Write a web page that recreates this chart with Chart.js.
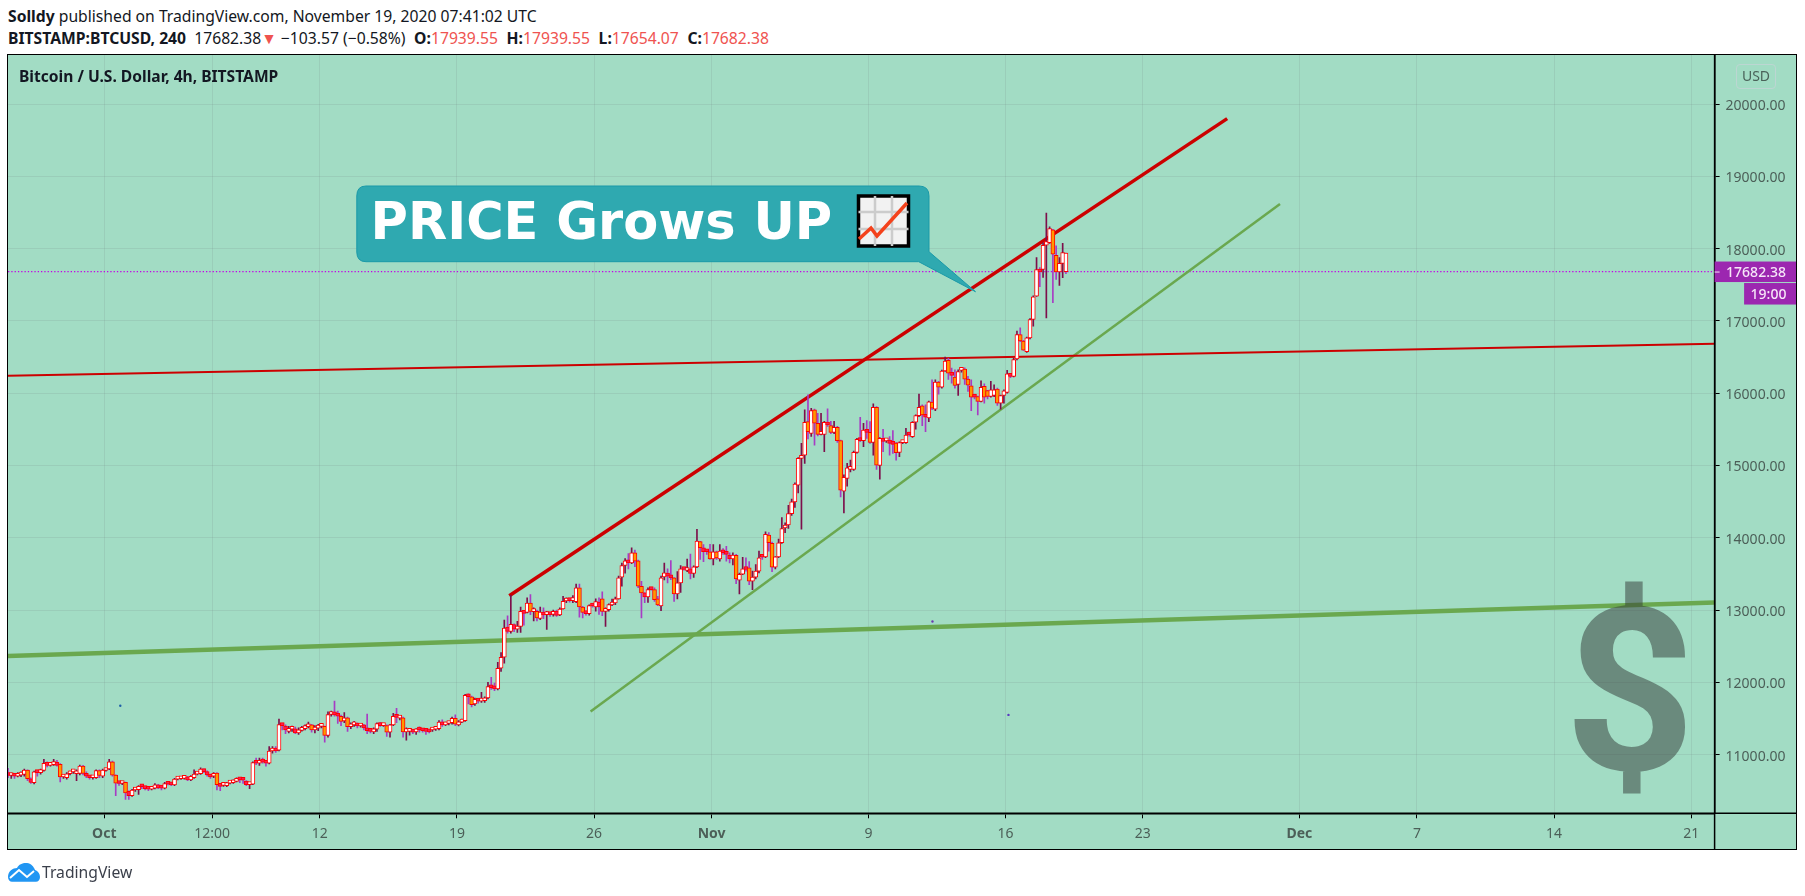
<!DOCTYPE html>
<html>
<head>
<meta charset="utf-8">
<title>BTCUSD</title>
<script src="https://cdn.jsdelivr.net/npm/chart.js@4"></script>
<style>
  html, body { margin: 0; padding: 0; background: #fff; width: 1805px; height: 896px; overflow: hidden; font-family: "Noto Sans", sans-serif; color: #131722; }
  .abs { position: absolute; white-space: nowrap; }
  #frame { position: absolute; left: 7px; top: 54px; width: 1788px; height: 794px; border: 1.5px solid #000; background: #a2dcc4; }
  #mainChart { position: absolute; left: 8px; top: 55px; }
  #head1 { left: 8px; top: 6px; font-size: 15.7px; line-height: 20px; }
  #head2 { left: 8px; top: 28px; font-size: 15.7px; line-height: 20px; }
  #head2 i { font-style: normal; color: #ef5350; }
  #head2 .gap { margin-left: 4.5px; }
  #chartName { left: 19px; top: 66px; font-size: 15.6px; line-height: 20px; font-weight: 700; color: #131722; }
  #usd { left: 1736px; top: 64px; width: 38px; height: 23px; line-height: 22px; text-align: center; border: 1px solid #bcd6d2; border-radius: 4px; font-size: 14px; color: #4a6259; }
  #brand { left: 42px; top: 860px; font-size: 15.7px; line-height: 24px; color: #3a3f4a; }
  #overlay { position: absolute; left: 0; top: 0; }
</style>
</head>
<body>
<div id="frame"></div>
<canvas id="mainChart" width="1788" height="794"></canvas>
<div class="abs" id="head1"><b>Solldy</b> published on TradingView.com, November 19, 2020 07:41:02 UTC</div>
<div class="abs" id="head2"><b>BITSTAMP:BTCUSD, 240</b>&nbsp; 17682.38<i>▼</i> −103.57 (−0.58%) <b class="gap">O:</b><i>17939.55</i> <b class="gap">H:</b><i>17939.55</i> <b class="gap">L:</b><i>17654.07</i> <b class="gap">C:</b><i>17682.38</i></div>
<div class="abs" id="chartName">Bitcoin / U.S. Dollar, 4h, BITSTAMP</div>
<div class="abs" id="usd">USD</div>
<svg id="overlay" width="1805" height="896">
  <text x="1630" y="770" text-anchor="middle" font-family="Roboto" font-weight="700" font-size="229" fill="rgba(50,56,54,0.5)">$</text>
  <path d="M366,186 H919 Q929,186 929,196 V251.7 L975.5,291.7 L918.7,261.7 H366 Q356.8,261.7 356.8,252 V196 Q356.8,186 366,186 Z" fill="#2fa9b0" stroke="#1a99a8" stroke-width="1"/>
  <text x="370.5" y="239" font-family="DejaVu Sans" font-weight="700" font-size="51" fill="#fff">PRICE Grows UP</text>
  <g>
    <rect x="858.5" y="196" width="50" height="50" fill="#f2f2f2" stroke="#000" stroke-width="3.5"/>
    <path d="M875,196 V246 M892,196 V246 M858.5,212 H908.5 M858.5,229 H908.5" stroke="#cccccc" stroke-width="2.5" fill="none"/>
    <path d="M859,239 L871,228 L877,236 L907,203" stroke="#f4421c" stroke-width="3.5" fill="none"/>
  </g>
  <g>
    <path d="M8,877 C8,871 13,868 17,868 C19,864 23,862.7 27,863 C31,863.3 34,867 35,870 C38,871 40,874 40,877 C40,880 38,881.7 36,881.7 H12 C10,881.7 8,880 8,877 Z" fill="#2196f3"/>
    <path d="M10,878 L19,870 L27,877 L34,871" stroke="#fff" stroke-width="2" fill="none"/>
  </g>
</svg>
<div class="abs" id="brand">TradingView</div>
<script>
// x axis is in hours since Oct 1 00:00
const firstBarHour = -118;
const barHours = 4;
const leftHour = -117.96;
const rightHour = 1972.6;

const opens = [
  10715,10710,10715,10700,10715,10725,10785,10665,10610,10760,10750,10780,10880,10850,10860,10880,10865,10690,10680,10735,
  10760,10735,10740,10840,10740,10690,10680,10680,10780,10700,10780,10800,10900,10715,10605,10600,10615,10490,10430,10510,
  10515,10560,10555,10530,10520,10535,10580,10540,10535,10605,10590,10580,10660,10665,10670,10690,10650,10680,10730,10735,
  10790,10765,10720,10700,10745,10585,10575,10570,10605,10610,10630,10665,10660,10635,10585,10590,10890,10880,10900,10885,
  10880,11050,11090,11060,11415,11395,11320,11350,11355,11300,11335,11360,11385,11410,11340,11365,11390,11390,11265,11555,
  11570,11545,11530,11465,11510,11385,11410,11425,11395,11410,11370,11330,11315,11350,11430,11400,11400,11310,11410,11520,
  11505,11510,11315,11320,11315,11315,11345,11335,11325,11320,11340,11350,11360,11450,11410,11430,11440,11500,11410,11450,
  11470,11820,11800,11700,11750,11740,11745,11785,11930,11915,11910,12194,12347,12764,12704,12800,12736,12773,12981,12965,
  13097,12977,12981,12884,12968,12935,12940,12940,12985,12931,13014,13125,13134,13130,13116,13306,13042,12968,12949,13060,
  13042,13111,13153,12981,13005,13069,13097,13153,13454,13616,13681,13653,13792,13681,13329,13236,13181,13292,13282,13153,
  13056,13458,13500,13458,13444,13222,13375,13569,13546,13569,13505,13597,13945,13861,13815,13806,13708,13806,13708,13829,
  13806,13759,13708,13755,13412,13495,13569,13583,13398,13454,13537,13736,13736,14037,13921,13593,13736,13931,14134,14176,
  14333,14495,14727,15097,15143,15606,15444,15769,15583,15430,15430,15597,15551,15458,15528,15343,14644,14819,14945,14945,
  15180,15370,15343,15490,15458,15319,15805,15000,15375,15340,15352,15306,15310,15180,15315,15315,15440,15398,15597,15690,
  15824,15690,15657,15875,15778,16153,16083,16306,16454,16264,16222,16120,16315,16333,16194,16102,15967,15954,15884,16093,
  16037,15954,15968,16056,15861,15968,16009,16245,16231,16472,16810,16722,16575,16764,17019,17343,17717,17713,18046,18083,
  18259,17907,17676,17796,17939
];
const closes = [
  10710,10715,10700,10715,10725,10785,10665,10615,10760,10750,10780,10880,10850,10860,10880,10850,10690,10690,10735,10760,
  10770,10740,10840,10740,10700,10680,10685,10780,10710,10785,10800,10900,10715,10605,10600,10620,10470,10430,10510,10510,
  10560,10555,10530,10520,10535,10580,10540,10535,10600,10590,10580,10660,10665,10670,10690,10650,10700,10730,10735,10800,
  10765,10720,10690,10740,10585,10560,10590,10605,10610,10630,10660,10650,10645,10585,10590,10890,10880,10910,10895,10880,
  11050,11080,11050,11415,11400,11340,11350,11360,11300,11340,11370,11385,11410,11340,11365,11390,11395,11265,11555,11570,
  11550,11530,11460,11510,11385,11410,11430,11395,11410,11370,11330,11320,11350,11430,11400,11400,11310,11410,11530,11515,
  11505,11315,11360,11320,11310,11345,11340,11330,11320,11315,11345,11360,11450,11410,11430,11435,11500,11420,11450,11470,
  11820,11800,11690,11765,11740,11760,11785,11940,11925,11910,12194,12347,12750,12704,12801,12736,12773,12981,12954,13097,
  12981,12977,12889,12972,12931,12935,12935,12981,12926,13014,13120,13134,13130,13144,13306,13042,12968,12949,13060,13055,
  13116,13042,12981,13014,13074,13097,13153,13444,13616,13681,13653,13792,13676,13329,13236,13181,13282,13282,13144,13069,
  13444,13514,13468,13444,13222,13375,13569,13560,13569,13505,13597,13954,13861,13806,13806,13708,13806,13722,13815,13792,
  13769,13708,13759,13431,13495,13569,13560,13398,13454,13537,13722,13730,14046,13931,13593,13736,13931,14125,14162,14333,
  14495,14741,15097,15134,15597,15468,15759,15583,15430,15444,15597,15560,15458,15528,15343,14658,14834,14967,14967,15180,
  15361,15343,15490,15458,15319,15805,15005,15375,15333,15345,15306,15292,15176,15315,15320,15421,15421,15597,15690,15805,
  15700,15667,15880,15792,16153,16083,16306,16445,16278,16245,16106,16297,16329,16194,16111,15944,15944,15884,16079,15944,
  15954,16046,16046,15861,15968,16032,16269,16231,16463,16810,16722,16593,16764,17019,17334,17708,17676,18046,18097,18278,
  17921,17676,17796,17945,17682
];
const highs = [
  10810,10745,10735,10750,10760,10800,10790,10680,10770,10765,10800,10935,10900,10890,10935,10920,10875,10700,10750,10770,
  10785,10790,10855,10850,10760,10710,10700,10790,10790,10800,10810,10935,10910,10720,10620,10630,10620,10500,10520,10530,
  10570,10570,10565,10540,10555,10600,10590,10550,10615,10620,10600,10670,10680,10685,10700,10700,10710,10790,10760,10815,
  10800,10775,10730,10750,10750,10600,10600,10615,10625,10650,10680,10675,10670,10640,10600,10900,10950,10950,10950,10900,
  11110,11110,11110,11490,11430,11410,11390,11395,11380,11370,11390,11410,11450,11420,11400,11420,11410,11395,11590,11600,
  11740,11600,11545,11580,11520,11440,11460,11440,11430,11420,11560,11350,11370,11440,11445,11420,11410,11420,11570,11640,
  11540,11520,11370,11360,11340,11360,11385,11355,11345,11340,11365,11385,11470,11480,11450,11460,11520,11550,11470,11490,
  11835,11840,11810,11780,11770,11860,11800,12000,12070,11990,12275,12410,12860,12920,13204,12810,12843,13042,12985,13170,
  13215,13030,13000,13040,13030,12980,12960,13000,13000,13030,13190,13170,13160,13200,13360,13360,13050,12980,13070,13070,
  13153,13170,13250,13030,13085,13150,13180,13470,13650,13710,13780,13860,13830,13690,13395,13240,13306,13310,13306,13190,
  13470,13650,13569,13685,13450,13530,13615,13590,13705,13775,13610,14115,13950,13905,13815,13910,13905,13815,13905,13850,
  13880,13792,13792,13769,13510,13730,13722,13670,13537,13630,13815,13760,14080,14070,13940,13740,13980,14280,14205,14449,
  14533,14760,15110,15305,15770,15977,15790,15780,15722,15722,15610,15782,15610,15610,15540,15352,14870,15028,15074,15200,
  15375,15667,15583,15620,15606,15852,15815,15385,15500,15360,15398,15481,15320,15325,15335,15514,15460,15605,15700,15986,
  15840,15838,15890,16185,16185,16165,16320,16500,16480,16347,16324,16324,16350,16350,16231,16185,15985,15960,16171,16130,
  16040,16162,16116,16070,15975,16045,16315,16260,16480,16857,16903,16730,16775,17030,17345,17875,17736,18080,18491,18300,
  18265,18037,17875,18074,17939
];
const lows = [
  10680,10670,10670,10690,10695,10700,10640,10600,10595,10700,10730,10770,10830,10840,10850,10840,10620,10670,10660,10720,
  10740,10640,10720,10720,10680,10660,10660,10670,10680,10680,10770,10790,10700,10430,10575,10585,10380,10380,10420,10490,
  10450,10530,10510,10500,10510,10525,10530,10510,10525,10580,10570,10570,10650,10655,10660,10640,10640,10670,10720,10725,
  10750,10700,10670,10680,10510,10500,10560,10555,10595,10600,10620,10610,10600,10570,10530,10585,10860,10850,10880,10840,
  10870,11020,11030,11050,11340,11290,11300,11320,11290,11280,11325,11340,11370,11310,11300,11330,11370,11170,11240,11530,
  11530,11430,11400,11440,11320,11360,11390,11370,11380,11340,11290,11300,11290,11320,11390,11390,11250,11240,11400,11440,
  11480,11240,11200,11270,11290,11280,11310,11310,11280,11300,11320,11335,11340,11390,11400,11410,11420,11400,11395,11440,
  11460,11700,11660,11680,11710,11720,11720,11770,11900,11885,11895,12150,12265,12680,12680,12700,12690,12690,12790,12958,
  12935,12850,12850,12865,12880,12730,12910,12915,12910,12920,13010,13100,13110,13100,13100,12900,12890,12930,12930,13040,
  12985,12940,12921,12773,12985,13060,13075,13150,13329,13510,13570,13640,13600,13310,12889,13100,13106,13275,13120,13060,
  12990,13416,13375,13420,13120,13153,13245,13550,13532,13431,13450,13585,13700,13670,13769,13699,13625,13699,13676,13769,
  13676,13653,13625,13366,13222,13490,13537,13352,13282,13431,13514,13700,13725,13815,13532,13569,13725,13920,14070,14130,
  14310,14420,14620,14120,15028,15366,15400,15282,15410,15421,15190,15540,15440,15440,15320,14565,14342,14713,14912,14930,
  15170,15330,15259,15375,15305,15143,14944,14810,15190,15320,15143,15167,15074,15120,15300,15305,15405,15389,15500,15676,
  15550,15468,15606,15770,15759,15985,16070,16301,16190,16139,16069,15968,16290,16120,16023,15759,15920,15699,15880,15861,
  15920,15944,15950,15830,15778,15861,16000,16215,16225,16460,16713,16590,16565,16750,16926,17338,17472,17600,17042,18070,
  17250,17574,17491,17597,17654
];

const resistanceHours = [496.1, 1375.5];
const resistancePrices = [13198, 19798];
const topLineHours = [-118, 1972.6];
const topLinePrices = [16240, 16683];
const floorHours = [-118, 1972.6];
const floorPrices = [12364, 13105];
const supportHours = [595.7, 1440.2];
const supportPrices = [11597, 18618];

const markerHours = [19.6, 1014.5, 1107.6];
const markerPrices = [11676, 12840, 11549];

const lastPrice = 17682.38;
const lastPriceText = '17682.38';
const countdownText = '19:00';

const priceTicks = [11000, 12000, 13000, 14000, 15000, 16000, 17000, 18000, 19000, 20000];
const timeTicks = [0, 132, 264, 432, 600, 744, 936, 1104, 1272, 1464, 1608, 1776, 1944];
const timeLabels = ['Oct', '12:00', '12', '19', '26', 'Nov', '9', '16', '23', 'Dec', '7', '14', '21'];
const boldLabels = ['Oct', 'Nov', 'Dec'];

function zip(xs, ys) { return xs.map((x, i) => ({ x, y: ys[i] })); }

const wickData = highs.map((h, i) => ({ x: firstBarHour + i * barHours, y: [lows[i], h], up: closes[i] >= opens[i] }));
const bodyData = opens.map((o, i) => ({ x: firstBarHour + i * barHours, y: [o, closes[i]], up: closes[i] >= o }));

function bodyFill(c) {
  if (!c.raw) return '#ffffff';
  // the live bar is drawn hollow in the picture
  if (c.raw.up || c.dataIndex === opens.length - 1) return '#ffffff';
  // short down candles show almost no orange, just the crimson edge
  return Math.abs(c.raw.y[0] - c.raw.y[1]) < 70 ? '#ff1a50' : '#ff9800';
}

// axis lines run on through the scale strips, last price flags sit on the axis
const axisExtras = {
  id: 'axisExtras',
  afterDraw(chart) {
    const { ctx, chartArea, scales } = chart;
    ctx.save();
    ctx.strokeStyle = '#000';
    ctx.lineWidth = 1.5;
    ctx.beginPath();
    ctx.moveTo(chartArea.right, chartArea.top);
    ctx.lineTo(chartArea.right, chart.height);
    ctx.moveTo(chartArea.left, chartArea.bottom);
    ctx.lineTo(chart.width, chartArea.bottom);
    ctx.stroke();

    const y = scales.y.getPixelForValue(lastPrice);
    ctx.fillStyle = '#9c27b0';
    ctx.fillRect(chartArea.right, y - 10, chart.width - chartArea.right, 20.5);
    ctx.fillRect(chartArea.right + 29.5, y + 11.5, chart.width - chartArea.right - 29.5, 21.5);
    ctx.fillStyle = '#f6e6f8';
    ctx.fillRect(chartArea.right, y, 5, 1);
    ctx.font = '500 14px "Noto Sans"';
    ctx.textBaseline = 'middle';
    ctx.fillText(lastPriceText, chartArea.right + 11.5, y + 1.5);
    ctx.fillText(countdownText, chartArea.right + 36, y + 23);
    ctx.restore();
  }
};

function timeFont(c) {
  const label = c.tick ? timeLabels[timeTicks.indexOf(c.tick.value)] : '';
  return { family: 'Noto Sans', size: 14, weight: boldLabels.includes(label) ? '700' : '400' };
}

new Chart(document.getElementById('mainChart'), {
  type: 'bar',
  data: {
    datasets: [
      {
        type: 'line', data: zip(resistanceHours, resistancePrices), borderColor: '#cc0000', borderWidth: 3.5,
        pointRadius: 0, order: 5
      },
      {
        type: 'line', data: zip(topLineHours, topLinePrices), borderColor: '#cc0000', borderWidth: 2,
        pointRadius: 0, order: 5
      },
      {
        type: 'line', data: zip(floorHours, floorPrices), borderColor: '#6aa84f', borderWidth: 4.5,
        pointRadius: 0, order: 5
      },
      {
        type: 'line', data: zip(supportHours, supportPrices), borderColor: '#6aa84f', borderWidth: 2.5,
        pointRadius: 0, order: 5
      },
      {
        type: 'line', data: zip([leftHour, rightHour], [lastPrice, lastPrice]), borderColor: '#c400e8', borderWidth: 1.3,
        borderDash: [1.3, 2], pointRadius: 0, order: 6
      },
      {
        label: 'wicks', data: wickData, grouped: false, barThickness: 1, order: 2,
        backgroundColor: (c) => (c.raw && c.raw.up ? '#7d0f4b' : '#a73cc4')
      },
      {
        label: 'bodies', data: bodyData, grouped: false, barThickness: 4, minBarLength: 3, order: 1,
        borderColor: '#ff0000', borderWidth: 1, borderSkipped: false,
        backgroundColor: bodyFill
      },
      {
        type: 'scatter', data: zip(markerHours, markerPrices), pointRadius: 1.2, pointBorderWidth: 0,
        pointBackgroundColor: ['#1f5fa8', '#6a3ab0', '#5a3ac0'], order: 4
      }
    ]
  },
  options: {
    responsive: false,
    animation: false,
    layout: { padding: 0, autoPadding: false },
    plugins: { legend: { display: false }, tooltip: { enabled: false } },
    scales: {
      x: {
        type: 'linear', position: 'bottom', min: leftHour, max: rightHour, offset: false,
        grid: { offset: false, color: 'rgba(110,130,130,0.16)', tickColor: '#000', tickLength: 5 },
        border: { color: '#000', width: 1.5 },
        afterFit: (s) => { s.height = 35.7; s.paddingLeft = 0; s.paddingRight = 0; },
        afterBuildTicks: (s) => { s.ticks = timeTicks.map((value) => ({ value })); },
        ticks: {
          autoSkip: false, maxRotation: 0, padding: 7, color: '#4c5f58',
          font: timeFont,
          callback: (v) => timeLabels[timeTicks.indexOf(v)]
        }
      },
      y: {
        type: 'linear', position: 'right', min: 10187.6, max: 20678,
        grid: { color: 'rgba(110,130,130,0.16)', tickColor: '#000', tickLength: 5 },
        border: { color: '#000', width: 1.5 },
        afterFit: (s) => { s.width = 81.4; s.paddingTop = 0; s.paddingBottom = 0; },
        afterBuildTicks: (s) => { s.ticks = priceTicks.map((value) => ({ value })); },
        ticks: {
          padding: 6, labelOffset: 2, color: '#4c5f58', font: { family: 'Noto Sans', size: 14 },
          callback: (v) => Number(v).toFixed(2)
        }
      }
    }
  },
  plugins: [axisExtras]
});
</script>
</body>
</html>
